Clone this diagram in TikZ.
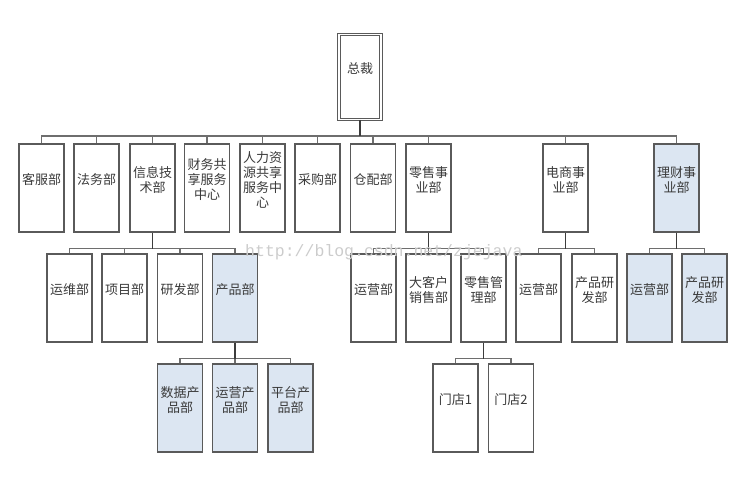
\documentclass[tikz,border=0pt]{standalone}
\usepackage{fontspec}
\usepackage{tikz}
\newfontfamily\cjk{Noto Sans CJK SC}
\newfontfamily\wmfont{Liberation Mono}
\definecolor{boxline}{HTML}{5A5A5A}
\definecolor{stemline}{HTML}{3C3C3C}
\definecolor{busline}{HTML}{6E6E6E}
\definecolor{boxblue}{HTML}{DCE6F2}
\definecolor{txtgray}{HTML}{3A3A3A}
\tikzset{
	dept/.style={draw=boxline,line width=1.2pt,fill=white,minimum width=45pt,minimum height=88pt,inner sep=0pt},
	hl/.style={fill=boxblue},
	lbl/.style={font=\cjk\fontsize{13}{15}\selectfont,text=txtgray,align=center,yshift=8pt,inner sep=0pt},
	stem/.style={draw=stemline,line width=1.6pt},
	bus/.style={draw=busline,line width=1.2pt},
	wmark/.style={font=\wmfont\fontsize{16.5}{18}\selectfont,text=black!20,inner sep=0pt,anchor=base west}
}

\begin{document}
\begin{tikzpicture}[x=1pt,y=-1pt]
		\useasboundingbox (0,0) rectangle (750,486);
		% top
		\node[dept,double,double distance=1.5pt,line width=1pt,minimum width=42pt,minimum height=85pt,label={[lbl]center:总裁}] (ceo) at (360,77) {};
		% first level
		\node[dept,label={[lbl]center:客服部}] (kf) at (41.5,188) {};
		\node[dept,label={[lbl]center:法务部}] (fw) at (96.5,188) {};
		\node[dept,label={[lbl]center:{信息技\\术部}}] (it) at (152.5,188) {};
		\node[dept,label={[lbl]center:{财务共\\享服务\\中心}}] (cw) at (207,188) {};
		\node[dept,label={[lbl]center:{人力资\\源共享\\服务中\\心}}] (hr) at (262.5,188) {};
		\node[dept,label={[lbl]center:采购部}] (cg) at (317.5,188) {};
		\node[dept,label={[lbl]center:仓配部}] (cp) at (373,188) {};
		\node[dept,label={[lbl]center:{零售事\\业部}}] (ls) at (428.5,188) {};
		\node[dept,label={[lbl]center:{电商事\\业部}}] (ds) at (565.5,188) {};
		\node[dept,hl,label={[lbl]center:{理财事\\业部}}] (lc) at (676.5,188) {};
		% second level
		\node[dept,label={[lbl]center:运维部}] (itA) at (69.5,298) {};
		\node[dept,label={[lbl]center:项目部}] (itB) at (124.5,298) {};
		\node[dept,label={[lbl]center:研发部}] (itC) at (180,298) {};
		\node[dept,hl,label={[lbl]center:产品部}] (itD) at (235,298) {};
		\node[dept,label={[lbl]center:运营部}] (lsA) at (373.5,298) {};
		\node[dept,label={[lbl]center:{大客户\\销售部}}] (lsB) at (428.5,298) {};
		\node[dept,label={[lbl]center:{零售管\\理部}}] (lsC) at (483.5,298) {};
		\node[dept,label={[lbl]center:运营部}] (dsA) at (538.5,298) {};
		\node[dept,label={[lbl]center:{产品研\\发部}}] (dsB) at (594.5,298) {};
		\node[dept,hl,label={[lbl]center:运营部}] (lcA) at (649.5,298) {};
		\node[dept,hl,label={[lbl]center:{产品研\\发部}}] (lcB) at (704.5,298) {};
		% third level
		\node[dept,hl,label={[lbl]center:{数据产\\品部}}] (pdA) at (180,408) {};
		\node[dept,hl,label={[lbl]center:{运营产\\品部}}] (pdB) at (235,408) {};
		\node[dept,hl,label={[lbl]center:{平台产\\品部}}] (pdC) at (290.5,408) {};
		\node[dept,label={[lbl]center:{门店1}}] (mdA) at (455.5,408) {};
		\node[dept,label={[lbl]center:{门店2}}] (mdB) at (511,408) {};
		% connectors
		\foreach \p/\kids in {ceo/{kf,fw,it,cw,hr,cg,cp,ls,ds,lc},it/{itA,itB,itC,itD},ls/{lsA,lsB,lsC},ds/{dsA,dsB},lc/{lcA,lcB},itD/{pdA,pdB,pdC},lsC/{mdA,mdB}}{
			\coordinate (\p-bus) at ([yshift=-16pt]\p.south);
			\foreach \c in \kids
				\draw[bus] (\p-bus) -| (\c.north);
			\draw[stem] (\p.south) -- (\p-bus);
		}
		\node[wmark] (wm) at (245,257) {http://blog.csdn.net/zjejava};
	\end{tikzpicture}
\end{document}
